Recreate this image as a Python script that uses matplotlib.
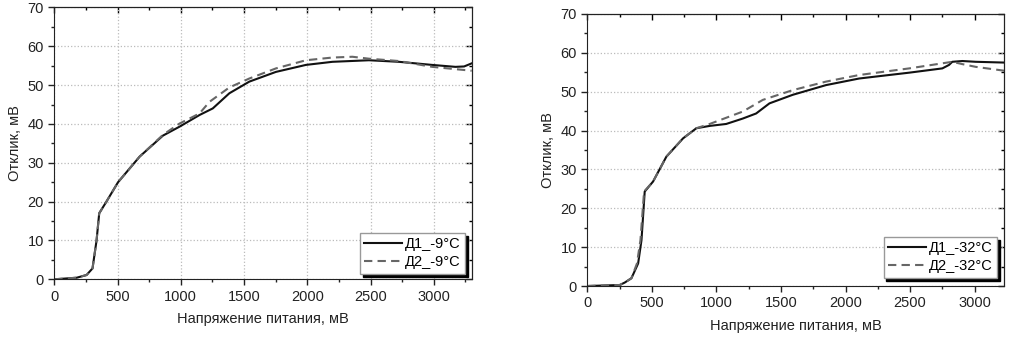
import numpy as np
import matplotlib
matplotlib.use("Agg")
import matplotlib.pyplot as plt
from matplotlib.ticker import MultipleLocator

plt.rcParams["font.family"] = ["Liberation Sans", "DejaVu Sans"]

# ── Data: left panel (-9 °C) ───────
x_d1_m9 = [0, 176, 255, 302, 334, 355, 412, 504, 675, 859, 990, 1148, 1253,
           1384, 1542, 1752, 1989, 2199, 2488, 2724, 2987, 3171, 3240, 3300]
y_d1_m9 = [0, 0.4, 1.1, 2.8, 10, 17, 20, 25, 31.6, 37, 39.3, 42.3, 44,
           47.9, 50.9, 53.4, 55.2, 56, 56.4, 56, 55.2, 54.7, 54.8, 55.6]

x_d2_m9 = [0, 176, 255, 302, 334, 355, 412, 504, 675, 859, 990, 1148, 1227,
           1384, 1542, 1752, 1989, 2199, 2357, 2488, 2724, 2987, 3300]
y_d2_m9 = [0, 0.4, 1.1, 2.8, 10, 17, 20, 25, 31.6, 37.2, 40.1, 42.7, 45.7,
           49.4, 51.7, 54.3, 56.4, 57.1, 57.3, 56.8, 56.2, 54.7, 53.7]

# ── Data: right panel (-32 °C) ───────
x_d1_m32 = [0, 252, 291, 342, 394, 420, 445, 510, 613, 742, 845, 948, 1076,
            1205, 1308, 1411, 1591, 1849, 2106, 2493, 2750, 2802, 2827, 2905,
            3008, 3230]
y_d1_m32 = [0, 0.26, 0.9, 2, 5.8, 11.8, 24.3, 26.9, 33.3, 38, 40.6, 41.2, 41.7,
            43.1, 44.4, 47, 49.2, 51.7, 53.4, 54.9, 56, 56.9, 57.7, 57.9,
            57.7, 57.5]

x_d2_m32 = [0, 252, 291, 342, 385, 412, 440, 510, 613, 742, 845, 948, 1205,
            1360, 1591, 1849, 2106, 2493, 2827, 2905, 3008, 3230]
y_d2_m32 = [0, 0.26, 0.9, 2, 5.8, 11.8, 24.3, 26.9, 33.3, 38, 40.6, 41.7, 44.9,
            47.9, 50.4, 52.6, 54.3, 56, 57.7, 57.1, 56.4, 55.4]

panels = [
    (x_d1_m9, y_d1_m9, x_d2_m9, y_d2_m9, "Д1_-9°C", "Д2_-9°C", 3300, True),
    (x_d1_m32, y_d1_m32, x_d2_m32, y_d2_m32, "Д1_-32°C", "Д2_-32°C", 3230, False),
]
positions = [
    [0.0533, 0.1737, 0.4096, 0.8043],
    [0.5763, 0.1538, 0.4093, 0.8048],
]
legend_anchor = [(0.984, 0.02), (0.9825, 0.03)]

fig = plt.figure(figsize=(10.19, 3.38), dpi=100)

for i, (x1, y1, x2, y2, lab1, lab2, xmax, vgrid) in enumerate(panels):
    ax = fig.add_axes(positions[i])
    ax.plot(x1, y1, color="#111111", lw=1.5, label=lab1)
    ax.plot(x2, y2, color="#666666", lw=1.5, ls=(0, (4, 2.5)), label=lab2)

    ax.set_xlim(0, xmax)
    ax.set_ylim(0, 70)
    ax.xaxis.set_major_locator(MultipleLocator(500))
    ax.xaxis.set_minor_locator(MultipleLocator(250))
    ax.yaxis.set_major_locator(MultipleLocator(10))
    ax.yaxis.set_minor_locator(MultipleLocator(5))
    ax.tick_params(which="both", direction="out", labelsize=10.5,
                   colors="#222222", width=1)
    ax.tick_params(which="major", length=4)
    ax.tick_params(which="minor", length=2.5)

    # mirrored inward ticks on top / right
    top = ax.secondary_xaxis("top")
    top.xaxis.set_major_locator(MultipleLocator(500))
    top.xaxis.set_minor_locator(MultipleLocator(250))
    top.tick_params(which="both", direction="in", labeltop=False, width=1)
    top.tick_params(which="major", length=4)
    top.tick_params(which="minor", length=2.5)
    right = ax.secondary_yaxis("right")
    right.yaxis.set_major_locator(MultipleLocator(10))
    right.yaxis.set_minor_locator(MultipleLocator(5))
    right.tick_params(which="both", direction="in", labelright=False, width=1)
    right.tick_params(which="major", length=4)
    right.tick_params(which="minor", length=2.5)

    ax.grid(axis="y", ls=":", color="#bbbbbb", lw=0.9)
    if vgrid:
        ax.grid(axis="x", ls=":", color="#bbbbbb", lw=0.9)
    for s in ax.spines.values():
        s.set_color("#222222")

    ax.set_xlabel("Напряжение питания, мВ", fontsize=10.5, color="#222222",
                  labelpad=6)
    ax.set_ylabel("Отклик, мВ", fontsize=10.5, color="#222222", labelpad=4)

    ax.legend(loc="lower right", bbox_to_anchor=legend_anchor[i],
              fontsize=10.5, frameon=True, fancybox=False,
              edgecolor="#999999", framealpha=1, handlelength=2.6,
              handletextpad=0.2, borderpad=0.3, labelspacing=0.3,
              borderaxespad=0.0,
              shadow={"color": "black", "alpha": 1})

fig.savefig("out.png", dpi=100)
